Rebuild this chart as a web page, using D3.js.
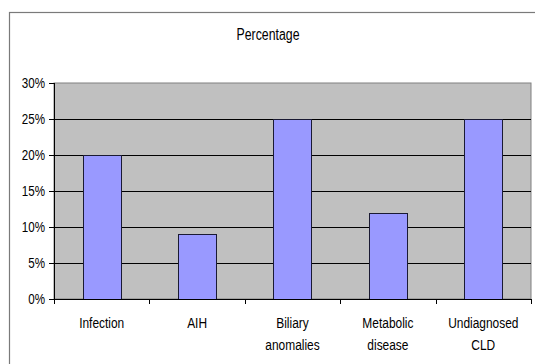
<!DOCTYPE html>
<html>
<head>
<meta charset="utf-8">
<script src="https://cdn.jsdelivr.net/npm/d3@7"></script>
<style>
  html, body { margin: 0; padding: 0; background: #fff; }
  svg { display: block; }
  text { font-family: "Liberation Sans", Arial, sans-serif; fill: #000; }
</style>
</head>
<body>
<svg id="chart" width="535" height="364"></svg>
<script>
// Diagnosis categories (two-line labels) and their share of cases
const categories = ["Infection", "AIH", "Biliary\nanomalies", "Metabolic\ndisease", "Undiagnosed\nCLD"];
const percentages = [20, 9, 25, 12, 25];
const yTicks = [0, 5, 10, 15, 20, 25, 30];
const chartTitle = "Percentage";

const svg = d3.select("#chart");
const plot = { left: 54, right: 531, top: 83, bottom: 299 };
const squeeze = 0.77; // narrow lettering

// Outer chart frame (runs off the right and bottom edges)
svg.append("rect")
  .attr("x", 9.5).attr("y", 12.5)
  .attr("width", 560).attr("height", 400)
  .attr("fill", "#fff").attr("stroke", "#7a7a7a").attr("stroke-width", 1.2);

const x = d3.scaleBand()
  .domain(categories)
  .range([plot.left, plot.right])
  .paddingInner(0.6)
  .paddingOuter(0.3);

const edges = d3.scaleLinear().domain([0, categories.length]).range([plot.left, plot.right]);

const y = d3.scaleLinear().domain([0, 30]).range([plot.bottom, plot.top]);

// Plot background
svg.append("rect")
  .attr("x", plot.left).attr("y", plot.top)
  .attr("width", plot.right - plot.left).attr("height", plot.bottom - plot.top)
  .attr("fill", "#c0c0c0").attr("stroke", "#808080").attr("stroke-width", 1);

// Horizontal gridlines
svg.append("g").selectAll("line")
  .data(yTicks.filter(t => t > 0 && t < 30))
  .join("line")
  .attr("x1", plot.left).attr("x2", plot.right)
  .attr("y1", d => Math.round(y(d)) + 0.5).attr("y2", d => Math.round(y(d)) + 0.5)
  .attr("stroke", "#000").attr("stroke-width", 1);

// Bars
svg.append("g").selectAll("rect")
  .data(categories.map((c, i) => ({ c, v: percentages[i] })))
  .join("rect")
  .attr("x", d => Math.round(x(d.c)) + 0.5)
  .attr("y", d => Math.round(y(d.v)) + 0.5)
  .attr("width", Math.round(x.bandwidth()))
  .attr("height", d => Math.round(y(0)) - Math.round(y(d.v)))
  .attr("fill", "#9999ff").attr("stroke", "#1a1a33").attr("stroke-width", 1);

// Y axis line, ticks and labels
const yAxis = svg.append("g");
yAxis.append("line")
  .attr("x1", plot.left + 0.5).attr("x2", plot.left + 0.5)
  .attr("y1", plot.top).attr("y2", plot.bottom)
  .attr("stroke", "#000");
yAxis.selectAll("line.tick")
  .data(yTicks).join("line").attr("class", "tick")
  .attr("x1", plot.left - 5).attr("x2", plot.left)
  .attr("y1", d => Math.round(y(d)) + 0.5).attr("y2", d => Math.round(y(d)) + 0.5)
  .attr("stroke", "#000");
yAxis.selectAll("text")
  .data(yTicks).join("text")
  .attr("text-anchor", "end")
  .attr("font-size", 14.5)
  .attr("transform", d => `translate(45,${y(d) + 5}) scale(0.8,1)`)
  .text(d => d + "%");

// X axis line, boundary ticks and category labels
const xAxis = svg.append("g");
xAxis.append("line")
  .attr("x1", plot.left).attr("x2", plot.right)
  .attr("y1", plot.bottom + 0.5).attr("y2", plot.bottom + 0.5)
  .attr("stroke", "#000");
xAxis.selectAll("line.tick")
  .data(d3.range(categories.length + 1)).join("line").attr("class", "tick")
  .attr("x1", d => Math.round(edges(d)) + 0.5).attr("x2", d => Math.round(edges(d)) + 0.5)
  .attr("y1", plot.bottom).attr("y2", plot.bottom + 5)
  .attr("stroke", "#000");
const labels = xAxis.selectAll("g.lbl")
  .data(categories).join("g").attr("class", "lbl")
  .attr("transform", d => `translate(${x(d) + x.bandwidth() / 2},328) scale(${squeeze},1)`);
labels.each(function(d) {
  const g = d3.select(this);
  d.split("\n").forEach((line, i) => {
    g.append("text")
      .attr("text-anchor", "middle")
      .attr("font-size", 15.5)
      .attr("y", i * 22)
      .text(line);
  });
});

// Chart title
svg.append("text")
  .attr("text-anchor", "middle")
  .attr("font-size", 16)
  .attr("transform", `translate(268,40) scale(${squeeze},1)`)
  .text(chartTitle);
</script>
</body>
</html>
